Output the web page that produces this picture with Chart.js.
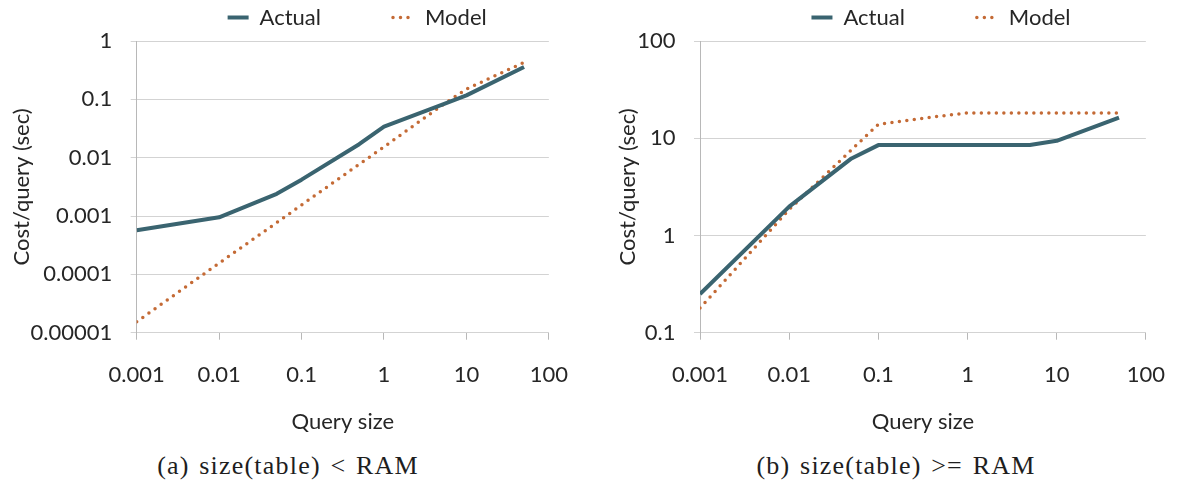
<!DOCTYPE html>
<html>
<head>
<meta charset="utf-8">
<title>Cost per query: actual vs model</title>
<script src="https://cdn.jsdelivr.net/npm/chart.js@4.4.1/dist/chart.umd.min.js"></script>
<style>
  html, body { margin: 0; padding: 0; background: #fff; }
  #page { position: relative; width: 1187px; height: 482px; overflow: hidden; background: #fff; }
  .panel { position: absolute; top: 0; height: 440px; }
  #panelA { left: 0; width: 590px; }
  #panelB { left: 590px; width: 597px; }
  .caption {
    position: absolute; top: 451px; width: 420px; height: 30px; line-height: 30px;
    text-align: center; white-space: nowrap; color: #1e1e1e;
    font-family: "Liberation Serif", "DejaVu Serif", serif; font-size: 26px;
    letter-spacing: 1.2px; word-spacing: 2px;
  }
  #capA { left: 78px; }
  #capB { left: 686px; }
</style>
</head>
<body>
<div id="page">
  <div class="panel" id="panelA"><canvas id="chartA"></canvas></div>
  <div class="panel" id="panelB"><canvas id="chartB"></canvas></div>
  <div class="caption" id="capA">(a) size(table) &lt; RAM</div>
  <div class="caption" id="capB">(b) size(table) &gt;= RAM</div>
</div>
<script>
// query sizes shared by both panels
const querySizes = [0.001, 0.01, 0.05, 0.1, 0.5, 1, 5, 10, 50];

// (a) table fits in RAM
const actualSmall = [0.00057, 0.00095, 0.0024, 0.0042, 0.017, 0.034, 0.080, 0.117, 0.358];
const modelSmall  = [0.0000154, 0.000156, 0.00077, 0.00155, 0.0077, 0.0153, 0.078, 0.15, 0.43];

// (b) table larger than RAM
const actualLarge = [0.25, 1.98, 6.2, 8.5, 8.5, 8.5, 8.5, 9.4, 16.3];
const modelLarge  = [0.179, 1.85, 7.6, 13.9, 16.9, 18.2, 18.2, 18.2, 18.2];

const xTickValues = [0.001, 0.01, 0.1, 1, 10, 100];
const xTickLabels = ['0.001', '0.01', '0.1', '1', '10', '100'];
const yTicksSmall = [0.00001, 0.0001, 0.001, 0.01, 0.1, 1];
const yLabelsSmall = ['0.00001', '0.0001', '0.001', '0.01', '0.1', '1'];
const yTicksLarge = [0.1, 1, 10, 100];
const yLabelsLarge = ['0.1', '1', '10', '100'];

const ACTUAL_COLOR = '#3a6470';
const MODEL_COLOR = '#c46a35';
const TEXT_COLOR = '#262626';
const GRID_COLOR = '#d3d3d3';
const AXIS_COLOR = '#b8b8b8';

Chart.defaults.font.family = 'Lato, "Open Sans", sans-serif';
Chart.defaults.font.size = 22;
Chart.defaults.color = TEXT_COLOR;

// the legend entries sit far apart (wide label padding), so pull the
// legend up and across after layout; only the top moves so the clip box
// still covers the drawn entries
const legendNudge = {
    id: 'legendNudge',
    afterLayout(chart, args, opts) {
        const lg = chart.legend;
        if (!lg) return;
        lg.left += opts.dx || 0;
        lg.right += opts.dx || 0;
        lg.top += opts.dy || 0;
    }
};

// legend samples drawn as short lines using the dataset's own dash / width
function lineLegendLabels(chart) {
    const items = Chart.defaults.plugins.legend.labels.generateLabels(chart);
    items.forEach(item => {
        const ds = chart.data.datasets[item.datasetIndex];
        item.lineDash = ds.borderDash || [];
        item.lineCap = ds.borderCapStyle || 'butt';
        item.lineWidth = ds.borderWidth;
        item.strokeStyle = ds.borderColor;
    });
    return items;
}

function toPoints(values) {
    return values.map((v, i) => ({ x: querySizes[i], y: v }));
}

function makeChart(canvasId, actual, model, yTicks, yLabels, cfg) {
    return new Chart(document.getElementById(canvasId), {
        type: 'line',
        data: {
            datasets: [
                {
                    label: 'Actual',
                    data: toPoints(actual),
                    borderColor: ACTUAL_COLOR,
                    backgroundColor: ACTUAL_COLOR,
                    borderWidth: 4,
                    borderJoinStyle: 'round',
                    pointRadius: 0
                },
                {
                    label: 'Model',
                    data: toPoints(model),
                    borderColor: MODEL_COLOR,
                    backgroundColor: MODEL_COLOR,
                    borderWidth: 3.5,
                    borderDash: [0, 7.5],
                    borderCapStyle: 'round',
                    pointRadius: 0
                }
            ]
        },
        options: {
            responsive: true,
            maintainAspectRatio: false,
            animation: false,
            layout: { padding: { top: 1, right: cfg.padRight, bottom: 0, left: 0 } },
            plugins: {
                legend: {
                    position: 'top',
                    maxHeight: 40,
                    labels: {
                        usePointStyle: true,
                        pointStyle: 'line',
                        pointStyleWidth: 21,
                        padding: 72,
                        color: TEXT_COLOR,
                        generateLabels: lineLegendLabels
                    }
                },
                tooltip: { enabled: false },
                legendNudge: { dx: cfg.legendDx, dy: -66.5 }
            },
            scales: {
                x: {
                    type: 'logarithmic',
                    min: 0.001,
                    max: 100,
                    afterBuildTicks: (s) => { s.ticks = xTickValues.map(v => ({ value: v })); },
                    afterFit: (s) => { s.height = 107.3; },
                    ticks: {
                        autoSkip: false,
                        maxRotation: 0,
                        padding: 22,
                        callback: (v, i) => xTickLabels[i]
                    },
                    grid: { drawOnChartArea: false, tickLength: 7, tickColor: AXIS_COLOR },
                    border: { color: GRID_COLOR },
                    title: { display: true, text: 'Query size', padding: { top: 0, bottom: 5 } }
                },
                y: {
                    type: 'logarithmic',
                    min: yTicks[0],
                    max: yTicks[yTicks.length - 1],
                    afterBuildTicks: (s) => { s.ticks = yTicks.map(v => ({ value: v })); },
                    afterFit: (s) => { s.width = cfg.yWidth; },
                    ticks: {
                        autoSkip: false,
                        padding: 18.5,
                        callback: (v, i) => yLabels[i]
                    },
                    grid: { color: GRID_COLOR, tickLength: 6, tickColor: GRID_COLOR },
                    border: { color: AXIS_COLOR },
                    title: {
                        display: true,
                        text: 'Cost/query (sec)',
                        padding: { top: cfg.titlePad, bottom: 0 }
                    }
                }
            }
        },
        plugins: [legendNudge]
    });
}

makeChart('chartA', actualSmall, modelSmall, yTicksSmall, yLabelsSmall,
    { yWidth: 136.7, padRight: 37.7, titlePad: 9, legendDx: 81 });
makeChart('chartB', actualLarge, modelLarge, yTicksLarge, yLabelsLarge,
    { yWidth: 110, padRight: 27, titlePad: 25, legendDx: 66 });
</script>
</body>
</html>
